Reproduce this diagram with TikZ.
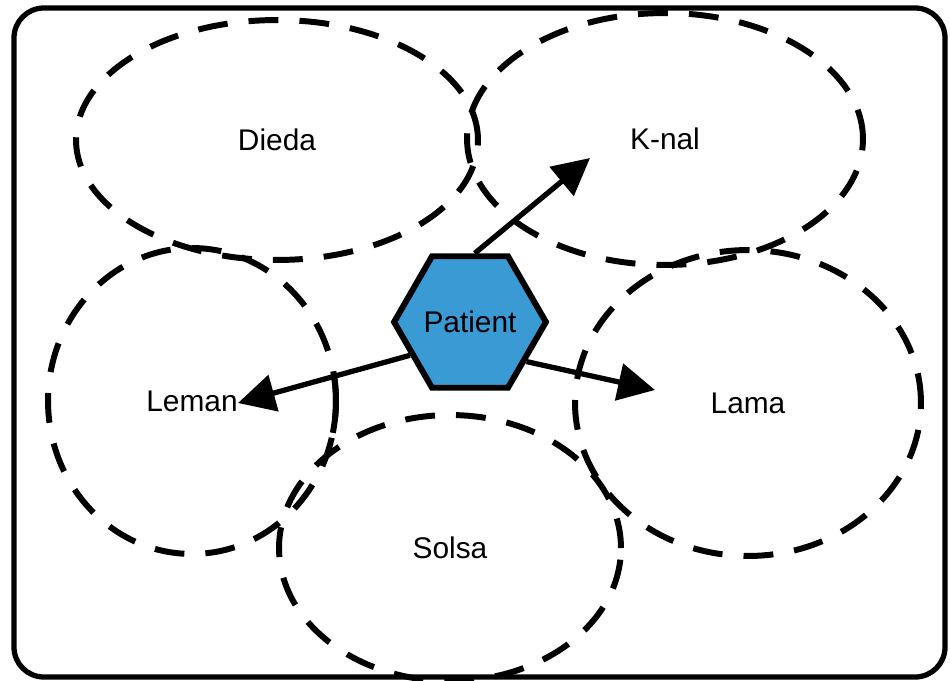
\documentclass[tikz,border=0pt]{standalone}
\usepackage{fontspec}
\setmainfont{Liberation Sans}
\usetikzlibrary{shapes.geometric,arrows.meta}
\definecolor{patientblue}{RGB}{58,154,212}
\tikzset{
  group/.style={ellipse, draw, line width=3.4pt, dash pattern=on 17pt off 12pt,
    inner sep=0pt, font=\fontsize{17}{20}\selectfont},
  patient/.style={regular polygon, regular polygon sides=6, draw, line width=3.4pt,
    fill=patientblue, minimum size=3cm, inner sep=0pt, font=\fontsize{17}{20}\selectfont},
  link/.style={line width=3pt, -{Triangle[length=21pt,width=21pt]}}
}
\begin{document}
\begin{tikzpicture}[x=0.02cm, y=-0.02cm]
  \useasboundingbox (0,0) rectangle (950,680);
  \draw[line width=3pt, rounded corners=17pt] (14,8) rectangle (945,677);

  \node[group, minimum width=8.04cm, minimum height=4.8cm] (dieda) at (277,140) {Dieda};
  \node[group, minimum width=7.92cm, minimum height=5.04cm] (knal) at (665,139) {K-nal};
  \node[group, minimum width=5.76cm, minimum height=6.12cm] (leman) at (192,401) {Leman};
  \node[group, minimum width=6.92cm, minimum height=6.12cm] (lama) at (748,403) {Lama};
  \node[group, minimum width=6.84cm, minimum height=5.32cm] (solsa) at (450,548) {Solsa};

  \draw[line width=3.4pt] (leman.center) ++(9:2.88cm and 3.06cm)
    arc[start angle=9, end angle=-12, x radius=2.88cm, y radius=3.06cm];

  \node[patient] (pat) at (470,322) {Patient};

  \coordinate (tipknal) at (590,158);
  \coordinate (tipleman) at (238,403);
  \coordinate (tiplama) at (655,390);

  \draw[link] (pat.86) -- (tipknal);
  \draw[link] (pat.209) -- (tipleman);
  \draw[link] (pat.-35) -- (tiplama);
\end{tikzpicture}
\end{document}
